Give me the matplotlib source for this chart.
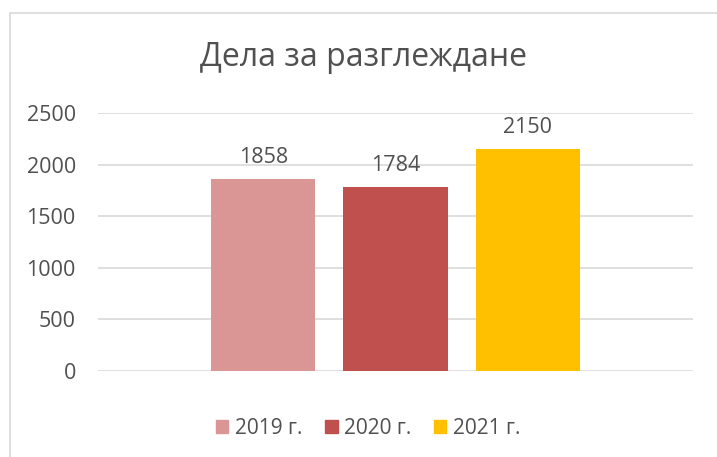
import numpy as np
import matplotlib.pyplot as plt
from matplotlib.patches import Rectangle, Patch

plt.rcParams['font.family'] = ['Open Sans', 'DejaVu Sans']

# chart data
title = 'Дела за разглеждане'
years = ['2019 г.', '2020 г.', '2021 г.']
cases = [1858, 1784, 2150]
colors = ['#da9694', '#c0504d', '#ffc000']
yticks = [0, 500, 1000, 1500, 2000, 2500]

text_col = '#505050'
grid_col = '#d9d9d9'

fig = plt.figure(figsize=(7.17, 4.57), dpi=100)
ax = fig.add_axes([98/717, 86/457, 595/717, 258/457])

# chart area border (right and bottom edges are cut off in the reference)
fig.patches.append(Rectangle((10/717, -0.1), 1.0, 1 - 13/457 + 0.1,
                             transform=fig.transFigure, fill=False,
                             edgecolor=grid_col, lw=1.2))

step = 0.222
width = 0.175
for i, (lab, v, c) in enumerate(zip(years, cases, colors)):
    x = (i - 1) * step
    ax.bar(x, v, width=width, color=c, label=lab, zorder=3)
    ax.annotate(str(v), (x, v), xytext=(0, 8), textcoords='offset points',
                ha='center', va='bottom', fontsize=15.5, color=text_col)

ax.set_xlim(-0.5, 0.5)
ax.set_ylim(0, 2500)
ax.set_yticks(yticks)
ax.set_xticks([])
ax.tick_params(axis='y', length=0, pad=16, labelsize=15.5, labelcolor=text_col)
for s in ax.spines.values():
    s.set_visible(False)
ax.grid(axis='y', color=grid_col, lw=1.2, zorder=0)

fig.text(363/717, 1 - 57/457, title, ha='center', va='center',
         fontsize=23, color=text_col)

handles = [Patch(color=c) for c in colors]
fig.legend(handles, years, loc='center', bbox_to_anchor=(368/717, 1 - 428/457),
           ncol=3, frameon=False, fontsize=15, labelcolor=text_col,
           handlelength=0.6, handleheight=0.6, handletextpad=0.3,
           columnspacing=1.1)

fig.savefig('out.png', dpi=100)
